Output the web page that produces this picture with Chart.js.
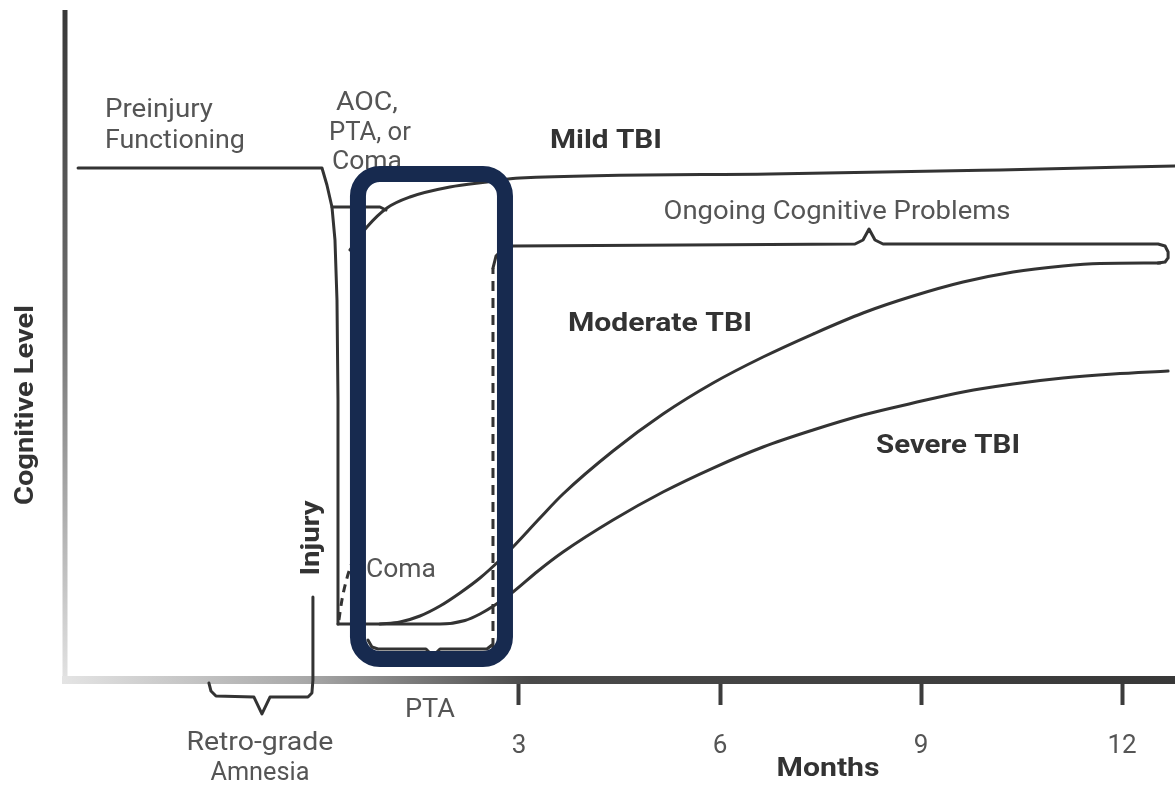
<!DOCTYPE html>
<html>
<head>
<meta charset="utf-8">
<script src="https://cdn.jsdelivr.net/npm/chart.js@4/dist/chart.umd.min.js"></script>
<style>
html,body{margin:0;padding:0;background:#fff;}
#wrap{width:1175px;height:785px;overflow:hidden;}
</style>
</head>
<body>
<div id="wrap"><canvas id="c" width="1175" height="785"></canvas></div>
<script>
// ---- Data (x = months after injury, y = cognitive level 0..100) ----
const monthTicks = [3, 6, 9, 12];

const preinjuryX = [-3.58, 0.06, 0.134, 0.209, 0.254, 0.284, 0.299, 0.299];
const preinjuryY = [76.42, 76.42, 73.88, 70.60, 65.67, 56.72, 41.79, 8.36];

const aocX = [0.209, 0.925, 1.015];
const aocY = [70.60, 70.60, 70.15];

const mildX = [0.478, 0.731, 1.030, 1.373, 1.970, 2.522, 3.015, 6.746, 10.179, 12.791];
const mildY = [64.18, 67.61, 70.45, 72.09, 73.58, 74.33, 74.93, 75.52, 76.12, 76.72];

const moderateX = [0.925, 1.224, 1.522, 1.821, 2.119, 2.418, 2.716, 2.910, 3.313, 3.657, 4.403, 5.149, 5.896, 6.642, 7.388, 8.134, 8.881, 9.627, 10.373, 11.119, 11.672, 12.567];
const moderateY = [8.36, 8.66, 9.55, 11.04, 12.99, 15.22, 17.91, 19.85, 24.18, 27.76, 34.18, 39.70, 44.33, 48.21, 51.64, 54.78, 57.31, 59.40, 60.90, 61.79, 62.16, 62.24];

const severeX = [0.299, 1.821, 2.194, 2.418, 2.642, 2.910, 3.284, 3.657, 4.403, 5.149, 5.896, 6.642, 7.388, 8.134, 8.881, 9.627, 10.373, 11.119, 11.866, 12.687];
const severeY = [8.36, 8.36, 8.88, 9.85, 11.19, 13.13, 16.27, 19.10, 23.88, 28.06, 31.64, 34.78, 37.31, 39.55, 41.34, 42.99, 44.18, 45.07, 45.67, 46.12];

const comaX = [0.313, 0.358, 0.433, 0.522];
const comaY = [8.96, 11.94, 15.22, 17.91];

const ptaLineX = [2.612, 2.612];
const ptaLineY = [4.78, 61.49];

const ongoingX = [2.612, 2.657, 2.761, 2.910, 8.015, 8.134, 8.224, 8.313, 8.433, 12.537, 12.642, 12.687, 12.687, 12.642, 12.537];
const ongoingY = [61.49, 63.28, 64.33, 64.78, 65.07, 65.67, 67.31, 65.67, 65.07, 65.07, 64.78, 63.88, 63.00, 62.39, 62.24];

const ptaBraceX = [0.746, 0.806, 0.896, 1.612, 1.716, 1.821, 2.522, 2.597];
const ptaBraceY = [5.97, 4.93, 4.63, 4.63, 3.58, 4.63, 4.63, 5.22];

const retroX = [-1.627, -1.597, -1.522, -0.955, -0.836, -0.716, -0.149, -0.090, -0.075, -0.075];
const retroY = [-0.45, -1.64, -2.39, -2.54, -5.07, -2.54, -2.54, -1.94, 0, 12.39];

// highlighted PTA window (navy rounded box)
const boxX = [0.597, 2.791];
const boxY = [3.13, 75.52];

const zip = (xs, ys) => xs.map((x, i) => ({x: x, y: ys[i]}));

const FONT = 'Roboto, "Liberation Sans", "DejaVu Sans", sans-serif';
const LINE = '#333333';

function ds(xs, ys, opts) {
  return Object.assign({
    data: zip(xs, ys),
    borderColor: LINE,
    borderWidth: 3,
    pointRadius: 0,
    pointHoverRadius: 0,
    fill: false,
    tension: 0,
    clip: false,
    borderJoinStyle: 'round',
    borderCapStyle: 'round'
  }, opts || {});
}

const labels = [
  {t: 'Preinjury', x: -3.179, y: 85.0, align: 'left', w: 108},
  {t: 'Functioning', x: -3.179, y: 80.3, align: 'left', w: 140},
  {t: 'AOC,', x: 0.731, y: 86.0, align: 'center', w: 62},
  {t: 'PTA, or', x: 0.776, y: 81.6, align: 'center', w: 82},
  {t: 'Coma', x: 0.731, y: 77.3, align: 'center', w: 70},
  {t: 'Mild TBI', x: 3.463, y: 80.3, align: 'left', w: 112, bold: true},
  {t: 'Ongoing Cognitive Problems', x: 7.746, y: 69.8, align: 'center', w: 347},
  {t: 'Moderate TBI', x: 3.731, y: 53.1, align: 'left', w: 184, bold: true},
  {t: 'Severe TBI', x: 8.328, y: 34.8, align: 'left', w: 144, bold: true},
  {t: 'Coma', x: 0.716, y: 16.4, align: 'left', w: 70},
  {t: 'Injury', x: -0.075, y: 21.19, align: 'center', w: 75, bold: true, rot: true},
  {t: 'PTA', x: 1.672, y: -4.5, align: 'center', w: 50},
  {t: 'Retro-grade', x: -0.866, y: -9.55, align: 'center', w: 147},
  {t: 'Amnesia', x: -0.866, y: -14.0, align: 'center', w: 99},
  {t: 'Months', x: 7.612, y: -13.4, align: 'center', w: 103, bold: true},
  {t: 'Cognitive Level', x: -4.343, y: 41.04, align: 'center', w: 200, bold: true, rot: true}
];

function drawLabel(ctx, L, px, py) {
  ctx.save();
  const size = 26;
  ctx.font = (L.bold ? 'bold ' : '') + size + 'px ' + FONT;
  ctx.fillStyle = L.bold ? '#333' : '#555';
  ctx.textBaseline = 'middle';
  const natural = ctx.measureText(L.t).width;
  const sx = L.w / natural;
  ctx.translate(px, py);
  if (L.rot) ctx.rotate(-Math.PI / 2);
  ctx.scale(sx, 1);
  ctx.textAlign = L.rot ? 'center' : L.align;
  ctx.fillText(L.t, 0, 0);
  ctx.restore();
}

const decor = {
  id: 'decor',
  beforeDraw(chart) {
    const ctx = chart.ctx;
    ctx.save();
    ctx.fillStyle = '#ffffff';
    ctx.fillRect(0, 0, chart.width, chart.height);
    ctx.restore();
  },
  beforeDatasetsDraw(chart) {
    const ctx = chart.ctx, a = chart.chartArea;
    ctx.save();
    const gy = ctx.createLinearGradient(0, a.top, 0, a.bottom);
    gy.addColorStop(0, '#383838');
    gy.addColorStop(0.45, '#6e6e6e');
    gy.addColorStop(1, '#e2e2e2');
    ctx.strokeStyle = gy;
    ctx.lineWidth = 5;
    ctx.beginPath();
    ctx.moveTo(a.left - 1, a.top);
    ctx.lineTo(a.left - 1, a.bottom + 3);
    ctx.stroke();
    const gx = ctx.createLinearGradient(a.left - 4, 0, a.right, 0);
    gx.addColorStop(0, '#e4e4e4');
    gx.addColorStop(0.22, '#a8a8a8');
    gx.addColorStop(0.42, '#4a4a4a');
    gx.addColorStop(1, '#383838');
    ctx.strokeStyle = gx;
    ctx.lineWidth = 8;
    ctx.beginPath();
    ctx.moveTo(a.left - 4, a.bottom);
    ctx.lineTo(a.right, a.bottom);
    ctx.stroke();
    ctx.restore();
  },
  afterDatasetsDraw(chart) {
    const ctx = chart.ctx;
    const xs = chart.scales.x, ys = chart.scales.y;
    labels.forEach(L => drawLabel(ctx, L, xs.getPixelForValue(L.x), ys.getPixelForValue(L.y)));
    const x1 = xs.getPixelForValue(boxX[0]), x2 = xs.getPixelForValue(boxX[1]);
    const y1 = ys.getPixelForValue(boxY[1]), y2 = ys.getPixelForValue(boxY[0]);
    ctx.save();
    ctx.strokeStyle = '#172a4f';
    ctx.lineWidth = 16;
    ctx.beginPath();
    ctx.roundRect(x1, y1, x2 - x1, y2 - y1, 22);
    ctx.stroke();
    ctx.restore();
  }
};

const smooth = {cubicInterpolationMode: 'monotone'};

new Chart(document.getElementById('c'), {
  type: 'line',
  data: {
    datasets: [
      ds(preinjuryX, preinjuryY),
      ds(aocX, aocY),
      ds(mildX, mildY, smooth),
      ds(moderateX, moderateY, smooth),
      ds(severeX, severeY, smooth),
      ds(comaX, comaY, {cubicInterpolationMode: 'monotone', borderDash: [8, 6], borderCapStyle: 'butt'}),
      ds(ptaLineX, ptaLineY, {borderDash: [10, 7], borderCapStyle: 'butt'}),
      ds(ongoingX, ongoingY),
      ds(ptaBraceX, ptaBraceY),
      ds(retroX, retroY)
    ]
  },
  options: {
    responsive: false,
    animation: false,
    devicePixelRatio: 1,
    layout: {padding: {left: 66, right: 0, top: 10, bottom: 0}},
    plugins: {legend: {display: false}, tooltip: {enabled: false}},
    events: [],
    scales: {
      x: {
        type: 'linear',
        min: -3.76,
        max: 12.79,
        afterBuildTicks: s => { s.ticks = monthTicks.map(v => ({value: v})); },
        afterFit: s => { s.height = 105; },
        grid: {display: true, drawOnChartArea: false, drawTicks: true, tickLength: 25, tickWidth: 4, tickColor: '#3c3c3c'},
        border: {display: false},
        ticks: {font: {size: 26, family: FONT}, color: '#555', padding: 26, maxRotation: 0, autoSkip: false}
      },
      y: {
        type: 'linear',
        min: 0,
        max: 100,
        display: false
      }
    }
  },
  plugins: [decor]
});
</script>
</body>
</html>
